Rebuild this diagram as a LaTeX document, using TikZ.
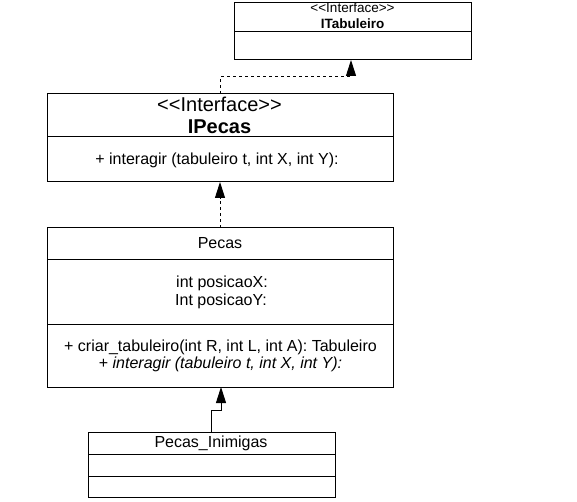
\documentclass[tikz,border=0pt]{standalone}
\usepackage{fontspec}
\setmainfont{Liberation Sans}
\usetikzlibrary{arrows.meta}
\newcommand\umlstereo{<\kern0pt<Interface>\kern0pt>}
\tikzset{
  umlbox/.style={draw=black, line width=1pt, inner sep=0pt, outer sep=0pt},
  divider/.style={draw=black, line width=1pt},
  txt/.style={anchor=base, inner sep=0pt, text=black},
  body/.style={txt, font=\fontsize{16}{19}\selectfont},
  small/.style={txt, font=\fontsize{13.5}{16}\selectfont},
  big/.style={txt, font=\fontsize{20}{24}\selectfont},
  deparrow/.style={draw=black, line width=1pt, dash pattern=on 3pt off 3pt, -{Triangle[length=16pt, width=10pt]}},
  genarrow/.style={draw=black, line width=1pt, -{Triangle[length=16pt, width=10pt]}}
}
\begin{document}
\begin{tikzpicture}[x=1pt, y=-1pt]
\useasboundingbox (0,0) rectangle (577,502);

% ITabuleiro
\node[umlbox, minimum width=237pt, minimum height=57pt] (itab) at (352.5,31.5) {};
\draw[divider] (234,32) -- (471,32);
\node[small] (itabst) at (352.5,13) {\umlstereo};
\node[small, font=\fontsize{13.5}{16}\selectfont\bfseries] (itabname) at (352.5,28.3) {ITabuleiro};

% IPecas
\node[umlbox, minimum width=346pt, minimum height=88pt] (ipecas) at (220,138) {};
\draw[divider] (47,137) -- (393,137);
\node[big] (ipecasst) at (219.5,111.7) {\umlstereo};
\node[big, font=\fontsize{20}{24}\selectfont\bfseries] (ipecasname) at (219.5,133.3) {IPecas};
\node[body] (ipecasop) at (217,164.3) {+ interagir (tabuleiro t, int X, int Y):};

% Pecas
\node[umlbox, minimum width=346pt, minimum height=159pt] (pecas) at (220,307.5) {};
\draw[divider] (47,259) -- (393,259);
\draw[divider] (47,324) -- (393,324);
\node[body] (pecasname) at (220,248.3) {Pecas};
\node[body] (pecasa1) at (222,287.7) {int posicaoX:};
\node[body] (pecasa2) at (221,305.7) {Int posicaoY:};
\node[body] (pecaso1) at (220.5,351.7) {+ criar\_tabuleiro(int R, int L, int A): Tabuleiro};
\node[body] (pecaso2) at (220.5,368.3) {+ \textit{interagir (tabuleiro t, int X, int Y):}};

% Pecas_Inimigas
\node[umlbox, minimum width=247pt, minimum height=65pt] (pinim) at (211.5,464.5) {};
\draw[divider] (88,454) -- (335,454);
\draw[divider] (88,476) -- (335,476);
\node[body] (pinimname) at (211,447.7) {Pecas\_Inimigas};

% connectors
\coordinate (c1) at (351,77);
\draw[deparrow] (ipecas.north) |- (c1) -- (c1 |- itab.south);
\draw[deparrow] (pecas.north) -- (ipecas.south);
\coordinate (c2) at (221,410);
\draw[genarrow] (pinim.north) |- (c2) -- (c2 |- pecas.south);
\end{tikzpicture}
\end{document}
